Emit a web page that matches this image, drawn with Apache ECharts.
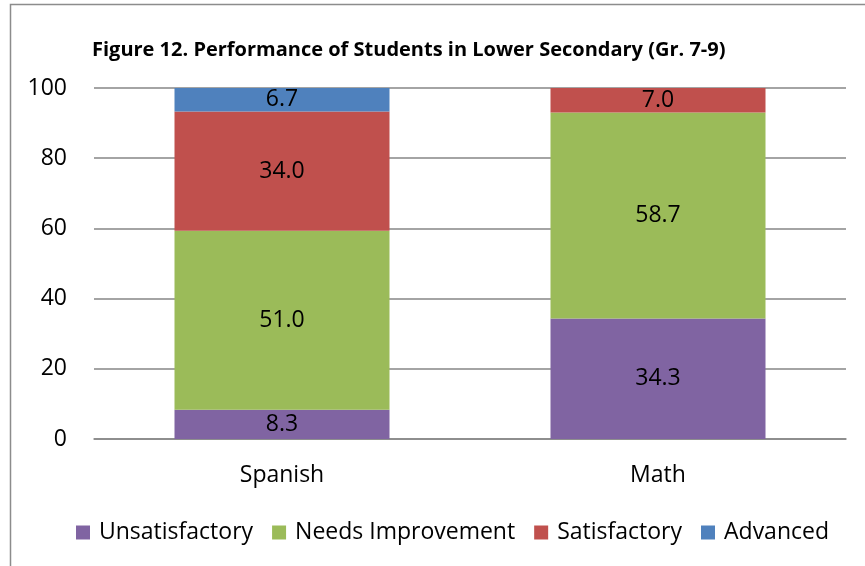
<!DOCTYPE html>
<html>
<head>
<meta charset="utf-8">
<script src="https://cdn.jsdelivr.net/npm/echarts@6/dist/echarts.min.js"></script>
<style>
  html, body { margin: 0; padding: 0; background: #fff; }
  #chart { width: 865px; height: 566px; }
</style>
</head>
<body>
<div id="chart"></div>
<script>
var categories = ["Spanish", "Math"];
var unsatisfactory = [8.3, 34.3];
var needsImprovement = [51.0, 58.7];
var satisfactory = [34.0, 7.0];
var advanced = [6.7, null];
var yTicks = [0, 20, 40, 60, 80, 100];

var font = "'Open Sans', sans-serif";

function stack(name, data, color) {
    return {
        name: name,
        type: "bar",
        stack: "total",
        barWidth: 215,
        data: data,
        itemStyle: { color: color },
        label: {
            show: true,
            position: "inside",
            color: "#000",
            fontFamily: font,
            fontSize: 23,
            formatter: function (p) {
                return p.value == null ? "" : Number(p.value).toFixed(1);
            }
        }
    };
}

var chart = echarts.init(document.getElementById("chart"));
chart.setOption({
    animation: false,
    graphic: [{
        type: "rect",
        shape: { x: 10.5, y: 4.5, width: 900, height: 700 },
        style: { fill: "none", stroke: "#8c8c8c", lineWidth: 1.5 }
    }],
    title: {
        text: "Figure 12. Performance of Students in Lower Secondary (Gr. 7-9)",
        left: 87,
        top: 35,
        textStyle: { fontFamily: font, fontSize: 20, fontWeight: "bold", color: "#000" }
    },
    legend: {
        bottom: 17,
        left: 71,
        icon: "rect",
        itemWidth: 14,
        itemHeight: 14,
        itemGap: 19,
        textStyle: { fontFamily: font, fontSize: 23, color: "#000", padding: [0, 0, 0, 4] },
        data: ["Unsatisfactory", "Needs Improvement", "Satisfactory", "Advanced"]
    },
    grid: { left: 94, right: 19, top: 88, bottom: 127 },
    xAxis: {
        type: "category",
        data: categories,
        axisTick: { show: false },
        axisLine: { lineStyle: { color: "#868686", width: 1.5 } },
        axisLabel: { color: "#000", fontFamily: font, fontSize: 23, margin: 25 }
    },
    yAxis: {
        type: "value",
        min: yTicks[0],
        max: yTicks[yTicks.length - 1],
        interval: 20,
        axisLine: { show: false },
        axisTick: { show: false },
        splitLine: { lineStyle: { color: "#868686", width: 1.5 } },
        axisLabel: { color: "#000", fontFamily: font, fontSize: 23, margin: 27 }
    },
    series: [
        stack("Unsatisfactory", unsatisfactory, "#8064a2"),
        stack("Needs Improvement", needsImprovement, "#9bbb59"),
        stack("Satisfactory", satisfactory, "#c0504d"),
        stack("Advanced", advanced, "#4f81bd")
    ]
});
</script>
</body>
</html>
